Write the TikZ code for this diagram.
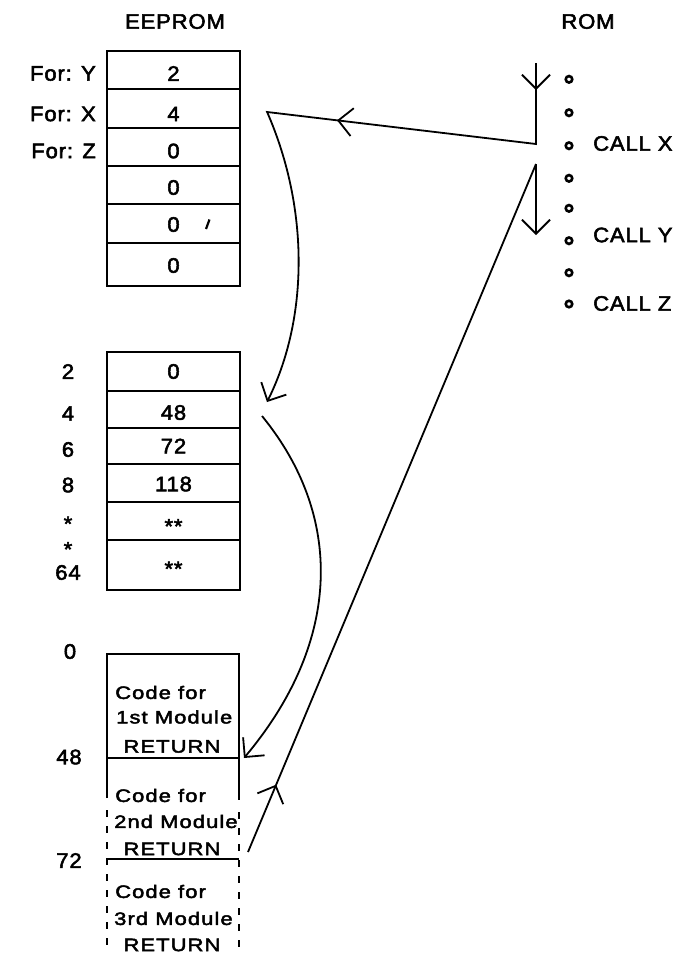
\documentclass[tikz,border=0pt]{standalone}
\usepackage{fontspec}
\setmainfont{Liberation Sans}[FakeStretch=1.05,LetterSpace=4,FakeBold=2.5]
\newfontfamily\codefont{Liberation Sans}[FakeStretch=1.22,LetterSpace=6,FakeBold=2.5]
\usetikzlibrary{arrows.meta,decorations.markings}
\begin{document}
\begin{tikzpicture}[x=1pt,y=-1pt]
\tikzset{
  lab/.style={font=\fontsize{21}{23}\selectfont, inner sep=0pt},
  codetxt/.style={font=\codefont\fontsize{18}{20}\selectfont, inner sep=0pt, anchor=west},
  rettxt/.style={font=\codefont\fontsize{18}{20}\selectfont, inner sep=0pt},
  cell/.style={draw, line width=2.2pt, minimum width=133pt, inner sep=0pt},
  romdot/.style={circle, draw, line width=2.6pt, minimum size=6.5pt, inner sep=0pt},
  conn/.style={line width=1.8pt},
  boxline/.style={line width=2.2pt},
  barb/.tip={Straight Barb[length=14pt,width=28pt]}
}
\useasboundingbox (0,0) rectangle (678,954);
\fill[white] (0,0) rectangle (678,954);

% headers
\node[lab] (hee) at (175,21.5) {EEPROM};
\node[lab] (hrom) at (588,21.5) {ROM};

% EEPROM table 1
\node[cell, minimum height=38pt] (a1) at (173.5,70) {};
\node[cell, minimum height=39pt] (a2) at (173.5,108.5) {};
\node[cell, minimum height=38pt] (a3) at (173.5,147) {};
\node[cell, minimum height=38pt] (a4) at (173.5,185) {};
\node[cell, minimum height=39pt] (a5) at (173.5,223.5) {};
\node[cell, minimum height=43pt] (a6) at (173.5,264.5) {};
\node[lab] (va1) at (173.5,73.5) {2};
\node[lab] (va2) at (173.5,114) {4};
\node[lab] (va3) at (173.5,151) {0};
\node[lab] (va4) at (173.5,187.5) {0};
\node[lab] (va5) at (173.5,224.5) {0};
\node[lab] (va6) at (173.5,265.5) {0};
\draw[line width=2.2pt] (209.5,219.5) -- (206,229);
\node[lab, anchor=east] (fy) at (96,73.5) {For: Y};
\node[lab, anchor=east] (fx) at (96,114) {For: X};
\node[lab, anchor=east] (fz) at (96,151) {For: Z};

% EEPROM table 2
\node[cell, minimum height=39pt] (b1) at (173.5,371.5) {};
\node[cell, minimum height=37pt] (b2) at (173.5,409.5) {};
\node[cell, minimum height=36pt] (b3) at (173.5,446) {};
\node[cell, minimum height=38pt] (b4) at (173.5,483) {};
\node[cell, minimum height=38pt] (b5) at (173.5,521) {};
\node[cell, minimum height=50pt] (b6) at (173.5,565) {};
\node[lab] (vb1) at (173.5,371.5) {0};
\node[lab] (vb2) at (173.5,412.5) {48};
\node[lab] (vb3) at (173.5,446) {72};
\node[lab] (vb4) at (173.5,484) {118};
\node[lab, anchor=base] (vb5) at (173.5,533.5) {**};
\node[lab, anchor=base] (vb6) at (173.5,576) {**};
\node[lab] (lb1) at (68,371.5) {2};
\node[lab] (lb2) at (68,413.5) {4};
\node[lab] (lb3) at (68,449.5) {6};
\node[lab] (lb4) at (68,485) {8};
\node[lab, anchor=base] (lb5) at (68,531) {*};
\node[lab, anchor=base] (lb6) at (68,556.5) {*};
\node[lab] (lb7) at (68,572.5) {64};

% code area
\coordinate (ctl) at (107,654);
\coordinate (ctr) at (239,654);
\coordinate (m48l) at (107,758);
\coordinate (m48r) at (239,758);
\coordinate (m72l) at (107,859);
\coordinate (m72r) at (239,859);
\draw[boxline] (107,798) -- (ctl) -- (ctr) -- (239,800);
\draw[boxline] (m48l) -- (m48r);
\draw[boxline] (m72l) -- (m72r);
\draw[boxline, dash pattern=on 7pt off 9pt] (107,810) -- (107,952);
\draw[boxline, dash pattern=on 7pt off 9pt] (239,812) -- (239,952);

\node[codetxt] (c1a) at (115,692.5) {Code for};
\node[codetxt] (c1b) at (116,717) {1st Module};
\node[rettxt] (c1c) at (172,746.5) {RETURN};
\node[codetxt] (c2a) at (115,795.5) {Code for};
\node[codetxt] (c2b) at (114,821.5) {2nd Module};
\node[rettxt] (c2c) at (172,849) {RETURN};
\node[codetxt] (c3a) at (115,891.5) {Code for};
\node[codetxt] (c3b) at (114,918.5) {3rd Module};
\node[rettxt] (c3c) at (172,945) {RETURN};

\node[lab] (lc0) at (70,651.5) {0};
\node[lab] (lc48) at (69,757) {48};
\node[lab] (lc72) at (69,860.5) {72};

% ROM
\node[romdot] (r1) at (569,79.3) {};
\node[romdot] (r2) at (569,112.7) {};
\node[romdot] (r3) at (569,145.7) {};
\node[romdot] (r4) at (569,178.3) {};
\node[romdot] (r5) at (569,208.3) {};
\node[romdot] (r6) at (569,240.7) {};
\node[romdot] (r7) at (569,272.7) {};
\node[romdot] (r8) at (569,304) {};
\node[lab, anchor=west] (cx) at (593,143.5) {CALL X};
\node[lab, anchor=west] (cy) at (593,235) {CALL Y};
\node[lab, anchor=west] (cz) at (593,303.5) {CALL Z};

% connectors
\coordinate (romtop) at (536,63);
\coordinate (callx) at (536,144);
\coordinate (xout) at ([xshift=26pt]a2.east |- 0,112);
\coordinate (ptr) at (267,402);
\coordinate (ret) at (536,164);
\coordinate (retend) at (536,235);
\coordinate (p48) at (262,416);
\coordinate (m48tip) at ([xshift=5pt]m48r);
\coordinate (m72out) at ([xshift=9pt,yshift=7pt]m72r);

\draw[conn, -{barb},
  decoration={markings,
    mark=at position 27pt with {\arrow{barb}},
    mark=at position 281.4pt with {\arrow{barb}}},
  postaction={decorate}]
  (romtop) -- (callx) -- (xout) .. controls (310,210) and (308,320) .. (ptr);
\draw[conn, -{barb}] (ret) -- (retend);
\draw[conn, -{barb}] (p48) .. controls (343,515) and (343,640) .. (m48tip);
\draw[conn,
  decoration={markings, mark=at position 73pt with {\arrow{barb}}},
  postaction={decorate}]
  (m72out) -- (ret);
\end{tikzpicture}
\end{document}
